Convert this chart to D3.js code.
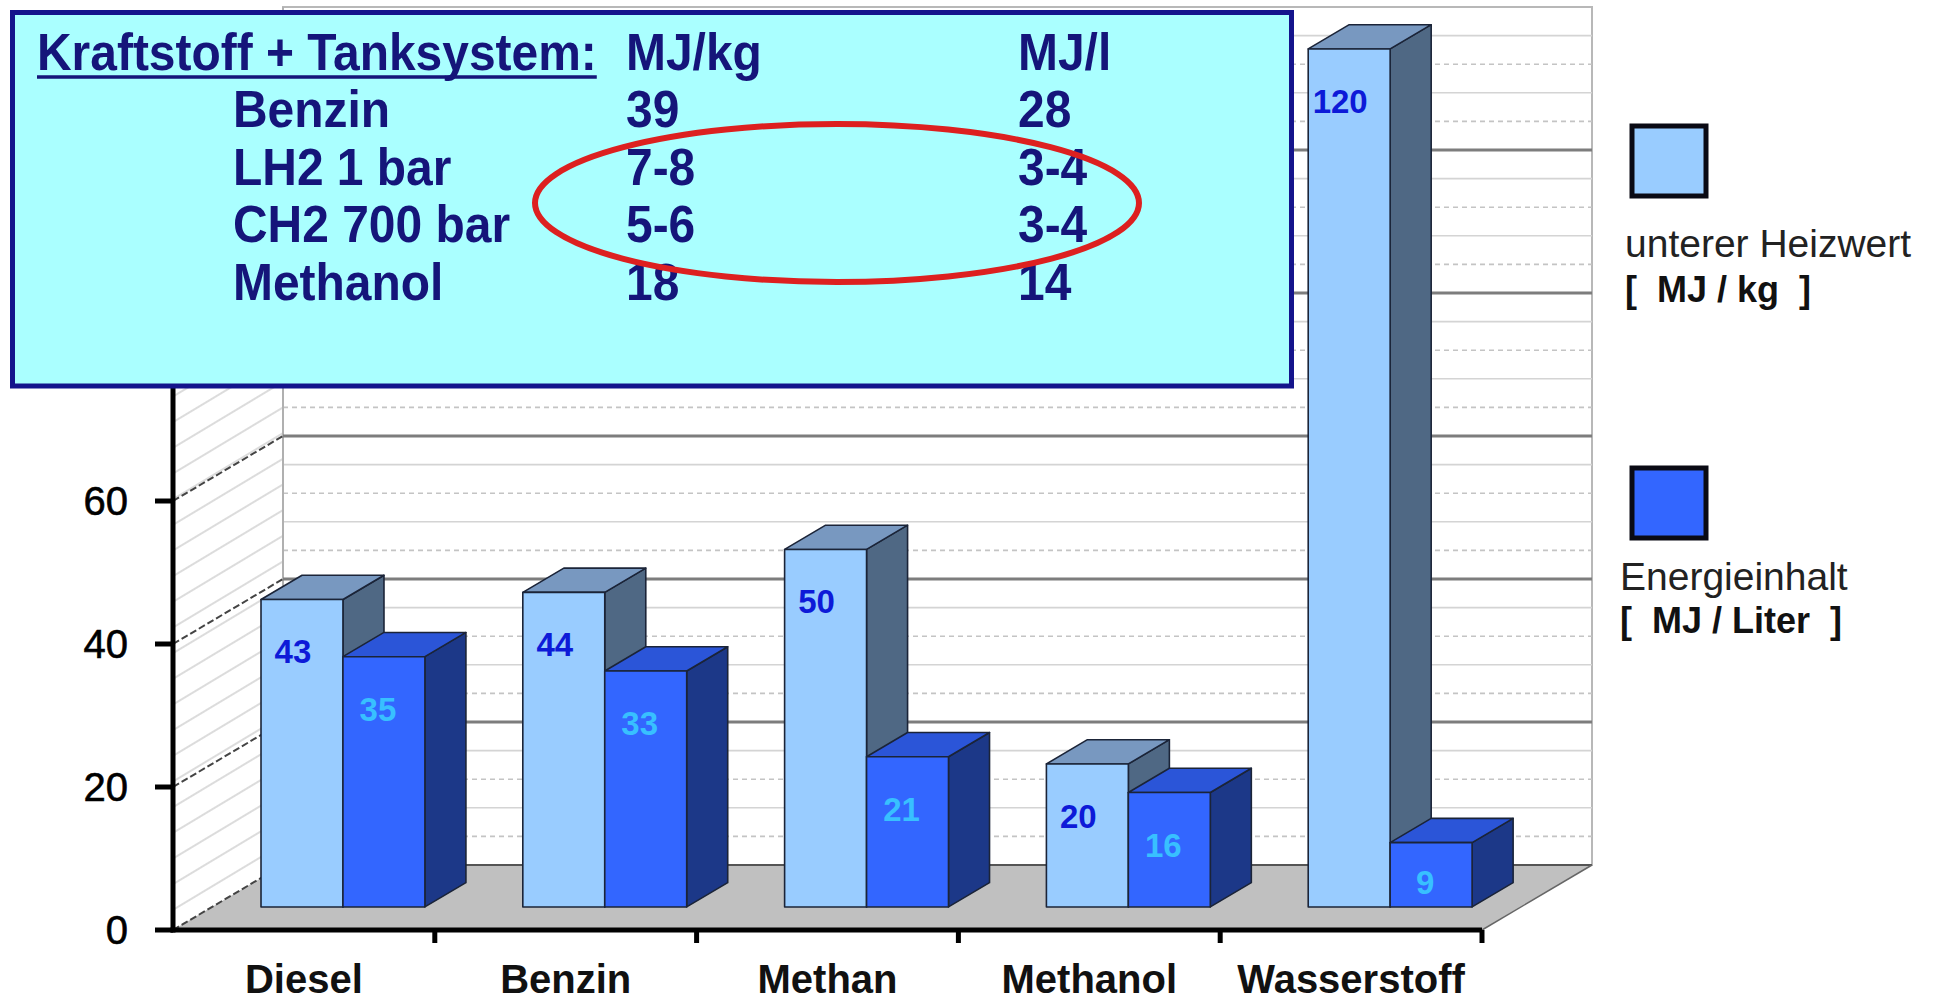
<!DOCTYPE html>
<html>
<head>
<meta charset="utf-8">
<script src="https://cdn.jsdelivr.net/npm/d3@7"></script>
<style>
  html, body { margin: 0; padding: 0; background: #ffffff; }
  svg { display: block; font-family: "Liberation Sans", Arial, sans-serif; }
</style>
</head>
<body>
<svg id="chart" width="1945" height="1000"></svg>
<script>
// Fuels on the category axis
const categories = ["Diesel", "Benzin", "Methan", "Methanol", "Wasserstoff"];
// Lower heating value, MJ/kg
const heizwert = [43, 44, 50, 20, 120];
// Energy content, MJ/litre
const energieinhalt = [35, 33, 21, 16, 9];
// Value axis ticks (the upper ones sit behind the table box)
const yTicks = [0, 20, 40, 60, 80, 100, 120];
const yTickLabels = ["0", "20", "40", "60"];

// Fuel + tank system table
const tankHeader = ["Kraftstoff + Tanksystem:", "MJ/kg", "MJ/l"];
const tankFuels = ["Benzin", "LH2 1 bar", "CH2 700 bar", "Methanol"];
const tankMJkg = ["39", "7-8", "5-6", "18"];
const tankMJl = ["28", "3-4", "3-4", "14"];

// Legend entries
const legendNames = ["unterer Heizwert", "Energieinhalt"];
const legendUnits = ["[  MJ / kg  ]", "[  MJ / Liter  ]"];

const svg = d3.select("#chart");

// ---- 3D frame geometry ----
const left = 173, right = 1482;
const depthDx = 110, depthDy = -65;
const barFront = 0.355, barBack = 0.728;

const x = d3.scaleBand().domain(categories).range([left, right])
  .paddingInner(0.374).paddingOuter(0.187);
const series = ["heiz", "energie"];
const xs = d3.scaleBand().domain(series).range([0, x.bandwidth()]);
const y = d3.scaleLinear().domain([0, 120]).range([930, 72]);

// project a front-plane x and value at depth fraction f
const P = (px, v, f) => [px + f * depthDx, y(v) + f * depthDy];
const pts = arr => arr.map(p => p.join(",")).join(" ");

const yMax = d3.max(yTicks);

// hatch for the side wall
const defs = svg.append("defs");
const pat = defs.append("pattern").attr("id", "hatch")
  .attr("patternUnits", "userSpaceOnUse").attr("width", 22).attr("height", 22)
  .attr("patternTransform", "rotate(-31)");
pat.append("rect").attr("width", 22).attr("height", 22).attr("fill", "#ffffff");
pat.append("line").attr("x1", 0).attr("y1", 11).attr("x2", 22).attr("y2", 11)
  .attr("stroke", "#dcdcdc").attr("stroke-width", 2);

const frame = svg.append("g");

// back wall
const bw0 = P(left, yMax, 1), bw1 = P(right, 0, 1);
frame.append("rect")
  .attr("x", bw0[0]).attr("y", bw0[1])
  .attr("width", bw1[0] - bw0[0]).attr("height", bw1[1] - bw0[1])
  .attr("fill", "#ffffff").attr("stroke", "#b8b8b8").attr("stroke-width", 2);

// minor gridlines on the back wall
const minor = d3.range(0, yMax + 0.1, 4).filter(v => v % 20 !== 0);
frame.selectAll(".minor").data(minor).join("line")
  .attr("x1", d => P(left, d, 1)[0]).attr("x2", d => P(right, d, 1)[0])
  .attr("y1", d => P(left, d, 1)[1]).attr("y2", d => P(right, d, 1)[1])
  .attr("stroke", (d, i) => i % 2 ? "#d4d4d4" : "#c4c4c4")
  .attr("stroke-width", 1.6)
  .attr("stroke-dasharray", (d, i) => i % 2 ? null : "5,4");

// side wall
frame.append("polygon")
  .attr("points", pts([P(left, 0, 0), P(left, yMax, 0), P(left, yMax, 1), P(left, 0, 1)]))
  .attr("fill", "url(#hatch)");
frame.append("line")
  .attr("x1", P(left, 0, 1)[0]).attr("x2", P(left, yMax, 1)[0])
  .attr("y1", P(left, 0, 1)[1]).attr("y2", P(left, yMax, 1)[1])
  .attr("stroke", "#b0b0b0").attr("stroke-width", 2);

// major gridlines: back wall and side wall
const major = yTicks.filter(v => v > 0 && v < yMax);
frame.selectAll(".majorBack").data(major).join("line")
  .attr("x1", d => P(left, d, 1)[0]).attr("x2", d => P(right, d, 1)[0])
  .attr("y1", d => P(left, d, 1)[1]).attr("y2", d => P(right, d, 1)[1])
  .attr("stroke", "#7d7d7d").attr("stroke-width", 3);
frame.selectAll(".majorSide").data(major).join("line")
  .attr("x1", d => P(left, d, 0)[0]).attr("x2", d => P(left, d, 1)[0])
  .attr("y1", d => P(left, d, 0)[1]).attr("y2", d => P(left, d, 1)[1])
  .attr("stroke", "#444").attr("stroke-width", 2).attr("stroke-dasharray", "7,3");

// floor
frame.append("polygon")
  .attr("points", pts([P(left, 0, 0), P(right, 0, 0), P(right, 0, 1), P(left, 0, 1)]))
  .attr("fill", "#c0c0c0");
frame.append("line")
  .attr("x1", P(left, 0, 1)[0]).attr("x2", P(right, 0, 1)[0])
  .attr("y1", P(left, 0, 1)[1]).attr("y2", P(right, 0, 1)[1])
  .attr("stroke", "#555").attr("stroke-width", 2);
frame.append("line")
  .attr("x1", P(left, 0, 0)[0]).attr("x2", P(left, 0, 1)[0])
  .attr("y1", P(left, 0, 0)[1]).attr("y2", P(left, 0, 1)[1])
  .attr("stroke", "#444").attr("stroke-width", 2).attr("stroke-dasharray", "7,3");
frame.append("line")
  .attr("x1", P(right, 0, 0)[0]).attr("x2", P(right, 0, 1)[0])
  .attr("y1", P(right, 0, 0)[1]).attr("y2", P(right, 0, 1)[1])
  .attr("stroke", "#666").attr("stroke-width", 1.5);

// ---- bars ----
const styles = {
  heiz:    { front: "#99ccff", top: "#7898c0", side: "#4f6884", label: "#0d1ad8", shift: -9 },
  energie: { front: "#3366ff", top: "#2b55d8", side: "#1c3888", label: "#38c0ff", shift: -6 }
};
const rows = [];
categories.forEach((c, i) => {
  rows.push({ cat: c, s: "heiz", v: heizwert[i] });
  rows.push({ cat: c, s: "energie", v: energieinhalt[i] });
});

const bars = svg.append("g").attr("stroke", "#1b2438").attr("stroke-width", 1.6)
  .attr("stroke-linejoin", "round");
rows.forEach(d => {
  const x0 = x(d.cat) + xs(d.s), x1 = x0 + xs.bandwidth();
  const st = styles[d.s];
  const g = bars.append("g");
  g.append("polygon").attr("fill", st.side)
    .attr("points", pts([P(x1, d.v, barFront), P(x1, 0, barFront), P(x1, 0, barBack), P(x1, d.v, barBack)]));
  g.append("polygon").attr("fill", st.top)
    .attr("points", pts([P(x0, d.v, barFront), P(x1, d.v, barFront), P(x1, d.v, barBack), P(x0, d.v, barBack)]));
  g.append("polygon").attr("fill", st.front)
    .attr("points", pts([P(x0, d.v, barFront), P(x1, d.v, barFront), P(x1, 0, barFront), P(x0, 0, barFront)]));
});

// value labels on the bar fronts
svg.append("g").selectAll("text").data(rows).join("text")
  .attr("x", d => P(x(d.cat) + xs(d.s) + xs.bandwidth() / 2, 0, barFront)[0] + styles[d.s].shift)
  .attr("y", d => {
    const top = P(0, d.v, barFront)[1], base = P(0, 0, barFront)[1];
    return top + Math.min(64, (base - top) * 0.8);
  })
  .attr("text-anchor", "middle")
  .attr("font-size", 33).attr("font-weight", "bold")
  .attr("fill", d => styles[d.s].label)
  .text(d => d.v);

// ---- axes ----
const axes = svg.append("g");
axes.append("line").attr("x1", left).attr("x2", left)
  .attr("y1", y(yMax)).attr("y2", y(0) + 2.5)
  .attr("stroke", "#000").attr("stroke-width", 5);
axes.append("line").attr("x1", left - 2.5).attr("x2", right)
  .attr("y1", y(0)).attr("y2", y(0))
  .attr("stroke", "#000").attr("stroke-width", 5);
axes.selectAll(".yt").data(yTicks).join("line")
  .attr("x1", left - 18).attr("x2", left)
  .attr("y1", d => y(d)).attr("y2", d => y(d))
  .attr("stroke", "#000").attr("stroke-width", 5);
axes.selectAll(".yl").data(yTickLabels).join("text")
  .attr("x", left - 45).attr("y", d => y(+d) + 14)
  .attr("text-anchor", "end").attr("font-size", 40).attr("fill", "#000")
  .attr("stroke", "#000").attr("stroke-width", 0.6)
  .text(d => d);
const boundaries = categories.map(c => x(c) - x.step() * x.paddingInner() / 2).slice(1).concat([right]);
axes.selectAll(".xt").data(boundaries).join("line")
  .attr("x1", d => d).attr("x2", d => d)
  .attr("y1", y(0)).attr("y2", y(0) + 13)
  .attr("stroke", "#000").attr("stroke-width", 5);
axes.selectAll(".xl").data(categories).join("text")
  .attr("x", d => x(d) + x.bandwidth() / 2)
  .attr("y", 993)
  .attr("text-anchor", "middle").attr("font-size", 40).attr("font-weight", "bold")
  .attr("fill", "#111")
  .text(d => d);

// ---- legend ----
const legend = svg.append("g");
const legendY = [124, 466];
series.forEach((s, i) => {
  const ly = legendY[i];
  legend.append("rect").attr("x", 1632).attr("y", ly + 2)
    .attr("width", 74).attr("height", 70)
    .attr("fill", styles[s].front).attr("stroke", "#0a0a14").attr("stroke-width", 5);
  legend.append("text").attr("x", i === 0 ? 1625 : 1620).attr("y", ly + (i === 0 ? 133 : 124))
    .attr("font-size", 39).attr("fill", "#222").text(legendNames[i]);
  legend.append("text").attr("x", i === 0 ? 1625 : 1620).attr("y", ly + (i === 0 ? 178 : 167))
    .attr("font-size", 36).attr("font-weight", "bold").attr("fill", "#111")
    .attr("xml:space", "preserve").style("white-space", "pre")
    .text(legendUnits[i]);
});

// ---- fuel + tank system table ----
const box = svg.append("g");
box.append("rect").attr("x", 12.5).attr("y", 12.5).attr("width", 1279).attr("height", 373.5)
  .attr("fill", "#aaffff").attr("stroke", "#14148c").attr("stroke-width", 5);

const navy = "#15157a";
const squeeze = 0.94;
const boxText = (tx, ty, t) => box.append("text")
  .attr("transform", `translate(${tx},${ty}) scale(${squeeze},1)`)
  .attr("font-size", 51).attr("font-weight", "bold").attr("fill", navy).text(t);

const colX = [37, 626, 1018];
const head = boxText(colX[0], 70, tankHeader[0]);
const headLen = head.node().getComputedTextLength() * squeeze;
box.append("line").attr("x1", colX[0]).attr("x2", colX[0] + headLen)
  .attr("y1", 77).attr("y2", 77).attr("stroke", navy).attr("stroke-width", 3.5);
boxText(colX[1], 70, tankHeader[1]);
boxText(colX[2], 70, tankHeader[2]);

const rowY = [127, 185, 242, 300];
tankFuels.forEach((f, i) => {
  boxText(233, rowY[i], f);
  boxText(colX[1], rowY[i], tankMJkg[i]);
  boxText(colX[2], rowY[i], tankMJl[i]);
});

// highlight around the hydrogen rows
box.append("ellipse").attr("cx", 837).attr("cy", 203).attr("rx", 302).attr("ry", 79)
  .attr("fill", "none").attr("stroke", "#dd2020").attr("stroke-width", 6);
</script>
</body>
</html>
